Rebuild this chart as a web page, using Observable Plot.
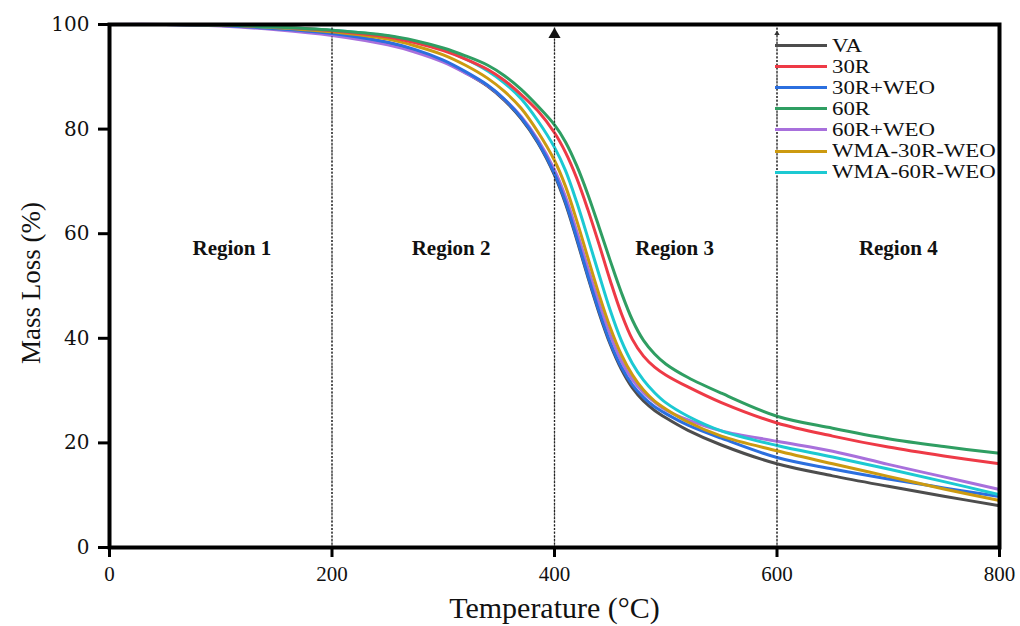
<!DOCTYPE html>
<html>
<head>
<meta charset="utf-8">
<script src="https://cdn.jsdelivr.net/npm/d3@7"></script>
<script src="https://cdn.jsdelivr.net/npm/@observablehq/plot@0.6"></script>
<style>
  html, body { margin: 0; padding: 0; background: #fff; }
  #wrap { position: relative; width: 1020px; height: 626px; overflow: hidden; }
  #wrap svg { font-family: "Liberation Serif", serif; }
  g[aria-label="y-axis tick label"] text { font-family: "DejaVu Serif", serif; font-size: 20px; fill: #111; }
  g[aria-label="x-axis tick label"] text { font-family: "Liberation Serif", serif; font-size: 21px; fill: #111; }
  #legend { position: absolute; left: 775px; top: 35px; width: 222px; overflow: hidden; font-family: "Liberation Serif", serif; font-size: 18px; color: #111; }
  #legend .row { height: 21.1px; display: flex; align-items: center; white-space: nowrap; }
  #legend .sw { width: 52px; height: 3px; flex: none; }
  #legend .lb { margin-left: 5px; display: inline-block; transform: scaleX(1.27); transform-origin: left center; line-height: 18px; }
</style>
</head>
<body>
<div id="wrap"></div>
<script>
// Temperature grid (°C)
const temps = [0, 50, 100, 150, 200, 250, 275, 300, 320, 340, 355, 370, 385, 400, 410, 420, 430, 440, 450, 460, 470, 480, 490, 500, 520, 550, 600, 650, 700, 750, 800];

// Mass (%) per series
const VA     = [100, 100, 99.8, 99.2, 98.3, 96.5, 95.0, 93.0, 90.8, 88.2, 85.5, 82.0, 77.4, 71.2, 65.7, 58.9, 51.7, 44.9, 38.9, 34.1, 30.5, 28.0, 26.2, 24.8, 22.4, 19.6, 16.0, 13.7, 11.7, 9.8, 8.0];
const R30    = [100, 100, 99.9, 99.5, 98.8, 97.6, 96.5, 95.0, 93.4, 91.4, 89.3, 86.6, 83.5, 79.3, 75.5, 70.6, 64.6, 58.0, 51.1, 44.8, 39.8, 36.6, 34.5, 33.0, 30.7, 27.7, 23.8, 21.3, 19.2, 17.5, 16.0];
const R30WEO = [100, 100, 99.8, 99.2, 98.3, 96.6, 95.2, 93.2, 91.0, 88.4, 85.7, 82.2, 77.6, 71.5, 66.0, 59.2, 52.0, 45.2, 39.2, 34.5, 31.1, 28.7, 26.9, 25.6, 23.4, 20.9, 17.2, 15.0, 13.1, 11.4, 9.75];
const R60    = [100, 100, 99.9, 99.5, 98.9, 97.9, 96.9, 95.5, 94.0, 92.2, 90.2, 87.6, 84.4, 80.8, 77.5, 73.0, 67.5, 61.3, 54.9, 48.8, 43.5, 39.6, 37.0, 35.1, 32.5, 29.5, 25.1, 22.8, 20.8, 19.3, 18.0];
const R60WEO = [100, 100, 99.7, 99.0, 97.9, 96.1, 94.7, 92.8, 90.7, 88.3, 85.7, 82.4, 78.0, 72.2, 67.0, 60.5, 53.5, 46.8, 40.7, 35.7, 32.1, 29.6, 27.8, 26.3, 24.4, 22.3, 20.3, 18.4, 15.9, 13.5, 11.1];
const WMA30  = [100, 100, 99.9, 99.4, 98.6, 97.2, 95.9, 94.2, 92.2, 89.7, 87.2, 84.0, 79.5, 74.0, 69.0, 62.5, 55.4, 48.4, 42.1, 36.9, 33.0, 30.1, 28.0, 26.5, 24.0, 21.3, 18.5, 16.0, 13.6, 11.2, 9.0];
const WMA60  = [100, 100, 99.9, 99.5, 98.9, 97.8, 96.7, 95.2, 93.4, 91.1, 88.8, 85.8, 81.6, 76.5, 72.0, 66.0, 59.2, 52.2, 45.4, 39.6, 35.2, 32.0, 29.6, 27.7, 25.1, 22.3, 19.5, 17.3, 15.0, 12.6, 10.1];

const seriesNames  = ["VA", "30R", "30R+WEO", "60R", "60R+WEO", "WMA-30R-WEO", "WMA-60R-WEO"];
const seriesValues = [VA, R30, R30WEO, R60, R60WEO, WMA30, WMA60];
const seriesColors = ["#4d4d4d", "#ee3a46", "#2b6fdf", "#2f9e62", "#a870dc", "#cc9a10", "#1cc9d2"];
const drawOrder    = ["VA", "60R+WEO", "30R+WEO", "WMA-30R-WEO", "WMA-60R-WEO", "30R", "60R"];

const xTicks = [0, 200, 400, 600, 800];
const yTicks = [0, 20, 40, 60, 80, 100];
const regionBounds = [200, 400, 600];
const arrowAt = [400, 600];
const regionLabels = ["Region 1", "Region 2", "Region 3", "Region 4"];
const regionCenters = [110, 307, 508, 709];
const regionLabelY = 57.3;
const xLabel = "Temperature (°C)";
const yLabel = "Mass Loss (%)";

const rows = [];
drawOrder.forEach(name => {
  const vals = seriesValues[seriesNames.indexOf(name)];
  temps.forEach((t, i) => rows.push({series: name, t, v: vals[i]}));
});

const plot = Plot.plot({
  width: 1020,
  height: 626,
  marginLeft: 109,
  marginRight: 21,
  marginTop: 24,
  marginBottom: 79,
  style: {background: "#fff", fontFamily: "Liberation Serif, serif"},
  x: {domain: [0, 800]},
  y: {domain: [0, 100]},
  color: {domain: seriesNames, range: seriesColors},
  marks: [
    Plot.ruleX(regionBounds, {stroke: "#222", strokeWidth: 1.3, strokeDasharray: "2,1.6"}),
    Plot.line(rows, {x: "t", y: "v", z: "series", stroke: "series", strokeWidth: 3, curve: "catmull-rom"}),
    Plot.ruleX(regionBounds, {stroke: "#222", strokeWidth: 1.1, strokeDasharray: "2,2", strokeOpacity: 0.6}),
    Plot.dot([arrowAt[0]], {x: d => d, frameAnchor: "top", dy: 10, symbol: "triangle", r: 4.5, fill: "#111", stroke: "none"}),
    Plot.dot([arrowAt[1]], {x: d => d, frameAnchor: "top", dy: 9, symbol: "triangle", r: 2, fill: "#333", stroke: "none"}),
    Plot.text(regionLabels, {x: (d, i) => regionCenters[i], y: () => regionLabelY, text: d => d, fontWeight: "bold", fontSize: 21, fill: "#111"}),
    Plot.axisX({ticks: xTicks, tickSize: 10, tickPadding: 9, strokeWidth: 3, label: null, tickFormat: d => String(d)}),
    Plot.axisY({ticks: yTicks, tickSize: 11, tickPadding: 9, strokeWidth: 3, label: null, tickFormat: d => String(d)}),
    Plot.text([xLabel], {frameAnchor: "bottom", dy: 70, lineAnchor: "bottom", text: d => d, fontSize: 30, fill: "#111"}),
    Plot.text([yLabel], {frameAnchor: "left", dx: -70, dy: -3, rotate: -90, textAnchor: "middle", lineAnchor: "bottom", text: d => d, fontSize: 27, fill: "#111"}),
    Plot.frame({stroke: "#000", strokeWidth: 4})
  ]
});

const wrap = document.getElementById("wrap");
wrap.appendChild(plot);

// Legend overlay inside the plot area
const legend = document.createElement("div");
legend.id = "legend";
seriesNames.forEach((name, i) => {
  const row = document.createElement("div");
  row.className = "row";
  const sw = document.createElement("span");
  sw.className = "sw";
  sw.style.background = seriesColors[i];
  const lb = document.createElement("span");
  lb.className = "lb";
  lb.textContent = name;
  row.appendChild(sw);
  row.appendChild(lb);
  legend.appendChild(row);
});
wrap.appendChild(legend);
</script>
</body>
</html>
